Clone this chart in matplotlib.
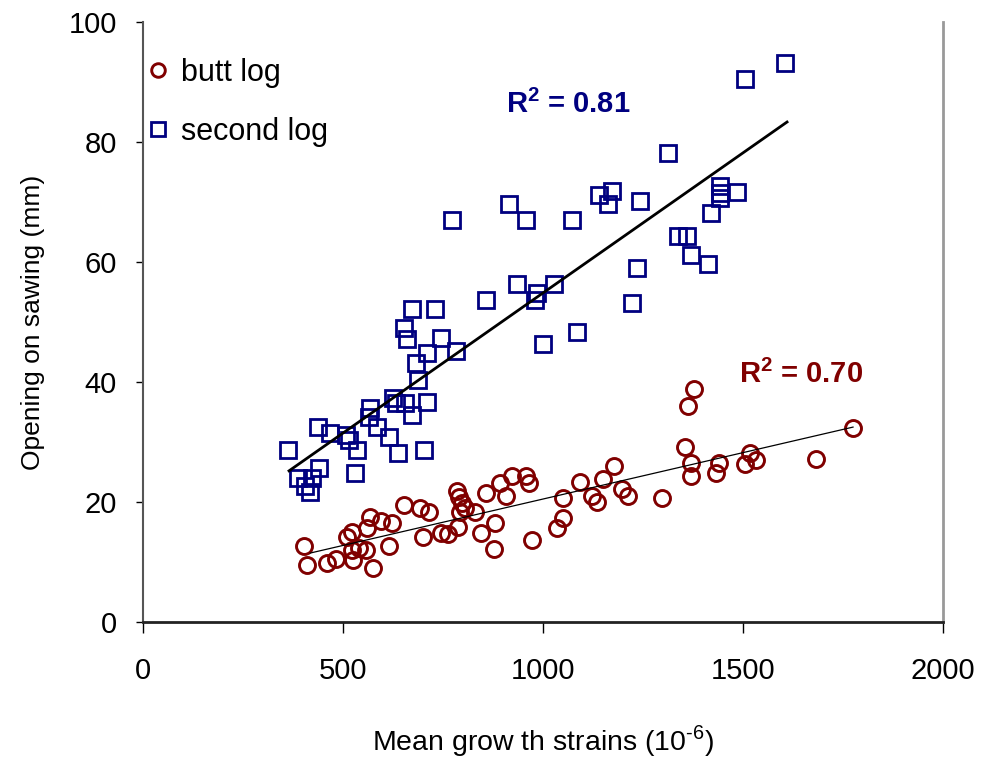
import numpy as np
import matplotlib
matplotlib.use('Agg')
import matplotlib.pyplot as plt

# butt log (circles)
butt_x = [403, 410, 460, 483, 510, 523, 523, 525, 540, 558, 560, 568, 575, 595, 623, 615,
          653, 693, 715, 700, 745, 763, 785, 790, 797, 805, 793, 787, 830, 845, 880, 878,
          858, 893, 908, 923, 958, 965, 973, 1050, 1050, 1035, 1093, 1123, 1135, 1150,
          1178, 1198, 1213, 1298, 1378, 1363, 1355, 1370, 1370, 1440, 1433, 1518, 1533,
          1505, 1683, 1775]
butt_y = [12.7, 9.5, 9.8, 10.5, 14.2, 15, 12, 10.3, 12.3, 12, 15.7, 17.5, 9, 16.8, 16.5, 12.7,
          19.5, 19, 18.3, 14.2, 14.8, 14.7, 21.8, 20.8, 19.8, 19, 18.3, 15.8, 18.3, 14.8, 16.5, 12.2,
          21.5, 23.2, 21, 24.3, 24.3, 23.2, 13.7, 20.7, 17.3, 15.7, 23.3, 21, 20, 23.8,
          26, 22.2, 21, 20.7, 38.8, 36, 29.2, 26.5, 24.3, 26.5, 24.8, 28.2, 27,
          26.3, 27.2, 32.3]

# second log (squares)
second_x = [362, 388, 405, 418, 423, 438, 440, 468, 508, 515, 530, 535, 565, 568, 585, 615,
            625, 633, 638, 655, 652, 660, 673, 673, 683, 688, 703, 710, 710, 730, 745, 773,
            782, 857, 915, 935, 958, 980, 985, 1000, 1028, 1073, 1085, 1140, 1163, 1172,
            1222, 1235, 1243, 1313, 1338, 1360, 1370, 1413, 1420, 1443, 1443, 1443, 1485,
            1505, 1605]
second_y = [28.7, 24, 22.7, 21.7, 24, 32.5, 25.7, 31.5, 31.2, 30.3, 24.8, 28.7, 34.2, 35.7, 32.5, 30.8,
            37.3, 36.5, 28.2, 36.5, 49, 47.2, 52.2, 34.5, 43.2, 40.3, 28.7, 44.8, 36.7, 52.2, 47.3, 67,
            45.2, 53.7, 69.7, 56.3, 67, 53.7, 54.8, 46.3, 56.3, 67, 48.3, 71.2, 69.7, 71.8,
            53.2, 59, 70.2, 78.2, 64.3, 64.3, 61.2, 59.7, 68.2, 72.7, 71.5, 70.7, 71.7,
            90.5, 93.2]

# trend lines (slope, intercept, x range)
butt_fit = (0.01547, 5.03, 418, 1775)
second_fit = (0.0467, 8.15, 365, 1610)

red = '#800000'
navy = '#000080'

plt.rcParams['font.family'] = ['Liberation Sans', 'DejaVu Sans']
plt.rcParams['mathtext.fontset'] = 'custom'
plt.rcParams['mathtext.rm'] = 'Liberation Sans'
plt.rcParams['mathtext.bf'] = 'Liberation Sans:bold'
plt.rcParams['axes.unicode_minus'] = False

fig = plt.figure(figsize=(9.81, 7.57), dpi=100)
ax = fig.add_axes([0.1458, 0.1783, 0.8155, 0.7926])

ax.plot(butt_x, butt_y, 'o', ms=11.5, mfc='none', mec=red, mew=2.1, label='butt log', zorder=3)
ax.plot(second_x, second_y, 's', ms=11.5, mfc='none', mec=navy, mew=2, label='second log', zorder=3)

for (m, b, x0, x1), lw in [(butt_fit, 0.9), (second_fit, 2.0)]:
    xs = np.array([x0, x1])
    ax.plot(xs, m * xs + b, color='black', lw=lw, zorder=4)

ax.set_xlim(0, 2000)
ax.set_ylim(0, 100)
ax.set_xticks([0, 500, 1000, 1500, 2000])
ax.set_yticks([0, 20, 40, 60, 80, 100])

ax.spines['top'].set_visible(False)
ax.spines['left'].set_color('#555555')
ax.spines['left'].set_linewidth(1.5)
ax.spines['right'].set_color('#999999')
ax.spines['right'].set_linewidth(2)
ax.spines['bottom'].set_color('#222222')
ax.spines['bottom'].set_linewidth(2)

ax.tick_params(axis='x', direction='out', length=8, width=1, pad=17, labelsize=21)
ax.tick_params(axis='y', direction='out', length=5, width=1, pad=14, labelsize=21)

ax.set_xlabel('Mean grow th strains (10$^{\\text{-6}}$)', fontsize=20.5, va='center')
ax.xaxis.set_label_coords(0.5, -0.198)
ax.set_ylabel('Opening on sawing (mm)', fontsize=19, va='center')
ax.yaxis.set_label_coords(-0.138, 0.5)

ax.text(907, 86.3, 'R$^{\\mathbf{2}}$ = 0.81', color=navy, fontsize=21, fontweight='bold',
        va='center', ha='left')
ax.text(1490, 41.2, 'R$^{\\mathbf{2}}$ = 0.70', color=red, fontsize=21, fontweight='bold',
        va='center', ha='left')

ax.legend(loc='upper left', bbox_to_anchor=(0.0, 0.94), frameon=False, fontsize=22,
          handletextpad=0.25, labelspacing=0.95, borderaxespad=0, borderpad=0,
          handlelength=1.0, markerscale=0.85)

fig.savefig('out.png', dpi=100)
